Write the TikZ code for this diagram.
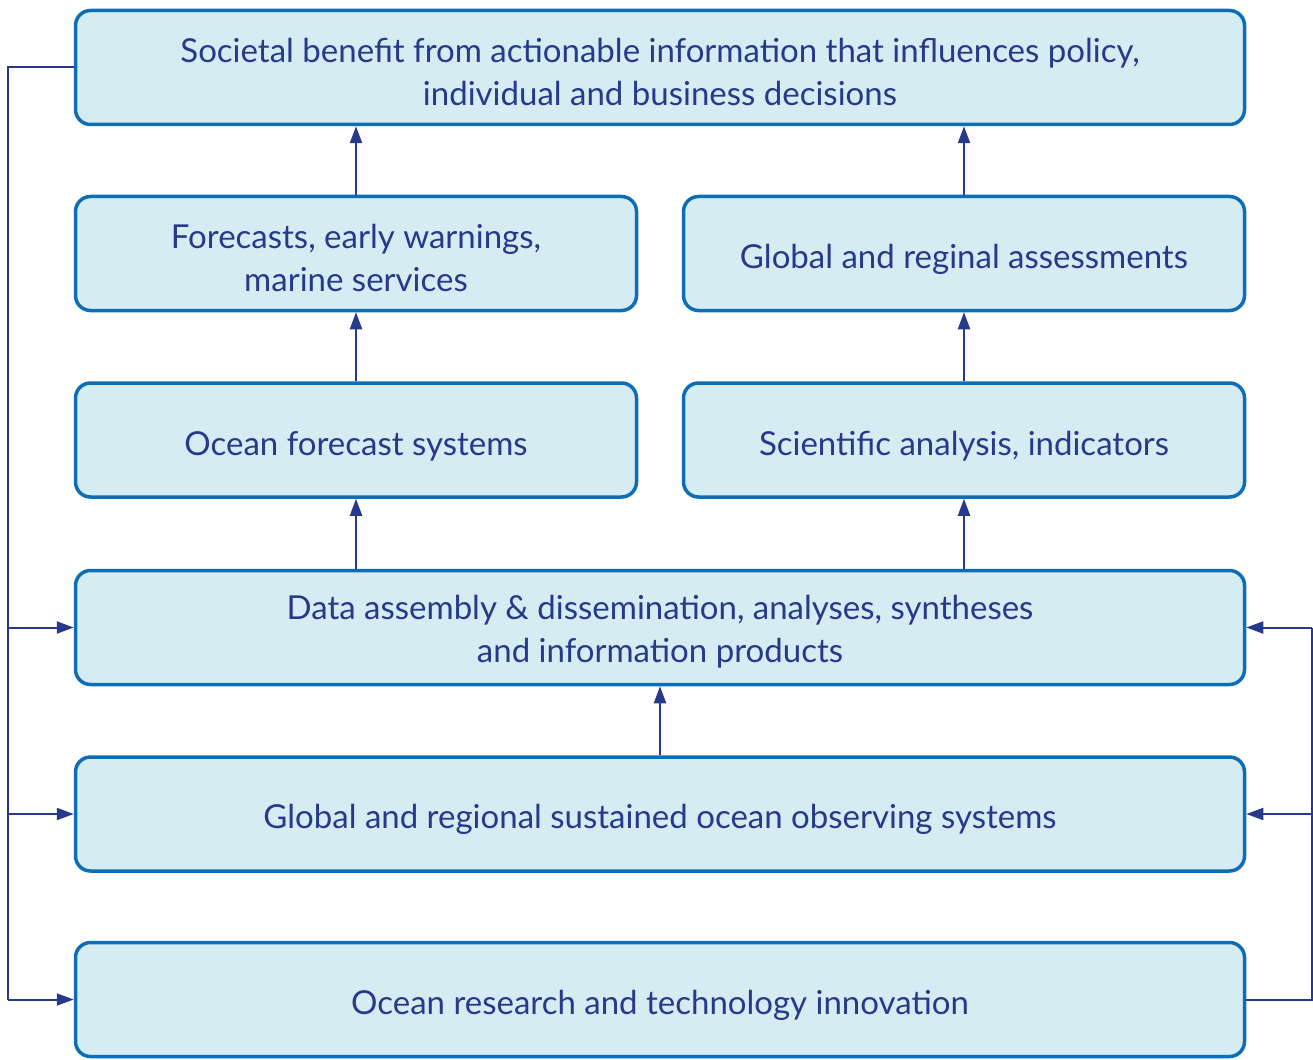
\documentclass[tikz,border=0pt]{standalone}
\usepackage{fontspec}
\setmainfont{Lato}
\usepackage{xcolor}
\usetikzlibrary{arrows.meta, positioning}
\definecolor{boxfill}{HTML}{D5ECF3}
\definecolor{boxline}{HTML}{0F6DB5}
\definecolor{inkblue}{HTML}{27398A}
\tikzset{
    panel/.style={draw=boxline, line width=3.5pt, fill=boxfill, rounded corners=15pt,
        text=inkblue, align=center, font=\fontsize{33}{43}\selectfont,
        text height=36pt, minimum height=114pt, inner sep=0pt},
    wide/.style={panel, minimum width=1169pt},
    half/.style={panel, minimum width=561pt},
    twoline/.style={text height=76pt},
    flow/.style={draw=inkblue, line width=2.2pt, -{Triangle[length=17pt, width=12pt]}},
    feed/.style={draw=inkblue, line width=2pt},
}
\begin{document}
\begin{tikzpicture}[x=1pt, y=-1pt]
    \useasboundingbox (0,0) rectangle (1313,1059);
    % 方框
    \node[wide, twoline] (benefit) at (660, 67.5) {Societal benefit from actionable information that influences policy,\\individual and business decisions};
    \node[half, twoline] (fcast) at (356, 253.5) {Forecasts, early warnings,\\marine services};
    \node[half] (assess) at (964, 253.5) {Global and reginal assessments};
    \node[half] (oceanfs) at (356, 440) {Ocean forecast systems};
    \node[half] (science) at (964, 440) {Scientific analysis, indicators};
    \node[wide, twoline] (data) at (660, 627.5) {Data assembly \& dissemination, analyses, syntheses\\and information products};
    \node[wide] (observe) at (660, 814) {Global and regional sustained ocean observing systems};
    \node[wide] (research) at (660, 999.5) {Ocean research and technology innovation};
    
    % 向上箭头
    \draw[flow] (fcast.north) -- (fcast.north |- benefit.south);
    \draw[flow] (assess.north) -- (assess.north |- benefit.south);
    \draw[flow] (oceanfs.north) -- (fcast.south);
    \draw[flow] (science.north) -- (assess.south);
    \draw[flow] (data.north -| oceanfs.south) -- (oceanfs.south);
    \draw[flow] (data.north -| science.south) -- (science.south);
    \draw[flow] (observe.north) -- (data.south);
    
    % 反馈线
    \coordinate (lrail) at (8, 0);
    \coordinate (rrail) at (1311.5, 0);
    \draw[feed] (benefit.west) -| (lrail |- research.west);
    \draw[flow, line width=2pt] (lrail |- research.west) -- (research.west);
    \draw[flow, line width=2pt] (lrail |- data.west) -- (data.west);
    \draw[flow, line width=2pt] (lrail |- observe.west) -- (observe.west);
    \draw[feed] (research.east) -| (rrail |- data.east);
    \draw[flow, line width=2pt] (rrail |- data.east) -- (data.east);
    \draw[flow, line width=2pt] (rrail |- observe.east) -- (observe.east);
\end{tikzpicture}
\end{document}
